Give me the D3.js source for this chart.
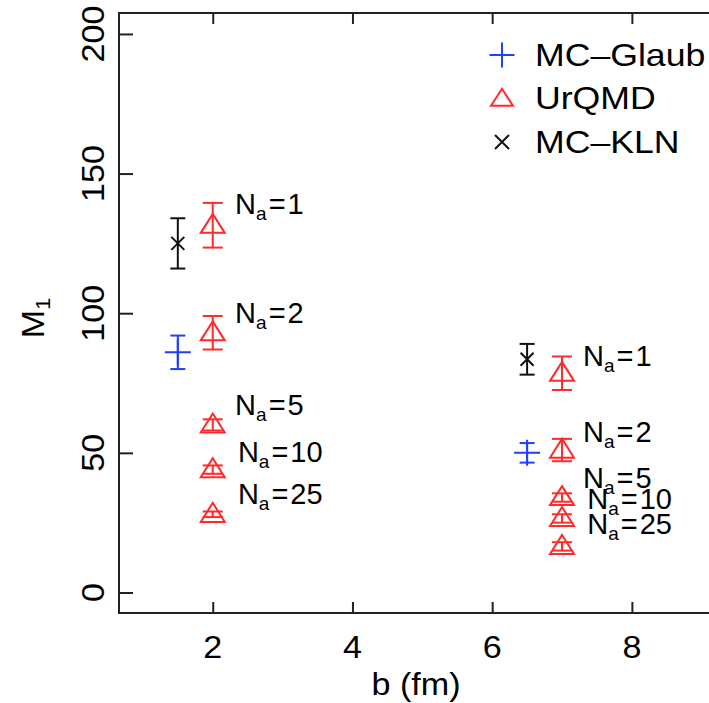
<!DOCTYPE html>
<html>
<head>
<meta charset="utf-8">
<script src="https://cdn.jsdelivr.net/npm/d3@7"></script>
<style>
  html, body { margin: 0; padding: 0; background: #fff; }
  svg { display: block; }
  text { font-family: "Liberation Sans", Arial, Helvetica, sans-serif; fill: #000; }
</style>
</head>
<body>
<script>
// ---------------- data ----------------
const naValues = [1, 2, 5, 10, 25];

const glaubB = [1.5, 6.5];
const glaubM = [86, 50];
const glaubErr = [6, 3.5];

const klnB = [1.5, 6.5];
const klnM = [125, 83.5];
const klnErr = [9, 5.5];

const urqmdB1 = 2;
const urqmdM1 = [131.5, 93, 60, 44, 28];
const urqmdErr1 = [8, 6, 2, 1.5, 1];
const urqmdB2 = 7;
const urqmdM2 = [78.5, 51, 34, 26.5, 16.5];
const urqmdErr2 = [6, 4, 1.5, 1.5, 1.5];

// annotation anchors (data coordinates) for the N_a labels
const labelB1 = [2.32, 2.32, 2.32, 2.36, 2.36];
const labelM1 = [139.5, 100.5, 67.5, 50.5, 35.5];
const labelB2 = [7.3, 7.3, 7.3, 7.36, 7.36];
const labelM2 = [85, 58, 41.5, 34, 25];

const xTicks = [2, 4, 6, 8];
const yTicks = [0, 50, 100, 150, 200];
const legendNames = ["MC\u2013Glaub", "UrQMD", "MC\u2013KLN"];

// ---------------- layout ----------------
const W = 709, H = 703;
const mLeft = 119, mTop = 13, mRight = 722, mBottom = 613;
const xDomain = [0.658, 9.29];
const yDomain = [-7.35, 207.5];

const blue = "#1f3fff", red = "#ff2a2a", black = "#111";
const FS = 31, SX = 1.1;

const svg = d3.select("body").append("svg").attr("width", W).attr("height", H);

const x = d3.scaleLinear().domain(xDomain).range([mLeft, mRight]);
const y = d3.scaleLinear().domain(yDomain).range([mBottom, mTop]);

const axisStyle = g => {
  g.select(".domain").remove();
  g.selectAll(".tick line").attr("stroke", "#222").attr("stroke-width", 2);
  g.selectAll(".tick text").remove();
};
svg.append("g").attr("transform", `translate(0,${mBottom})`)
  .call(d3.axisBottom(x).tickValues(xTicks).tickSizeInner(-11).tickSizeOuter(0)).call(axisStyle);
svg.append("g").attr("transform", `translate(0,${mTop})`)
  .call(d3.axisTop(x).tickValues(xTicks).tickSizeInner(-11).tickSizeOuter(0)).call(axisStyle);
svg.append("g").attr("transform", `translate(${mLeft},0)`)
  .call(d3.axisLeft(y).tickValues(yTicks).tickSizeInner(-14).tickSizeOuter(0)).call(axisStyle);

svg.append("rect").attr("x", mLeft).attr("y", mTop)
  .attr("width", mRight - mLeft).attr("height", mBottom - mTop)
  .attr("fill", "none").attr("stroke", "#222").attr("stroke-width", 2);

xTicks.forEach(t => {
  svg.append("text").attr("transform", `translate(${x(t)},658) scale(${SX},1)`)
    .attr("text-anchor", "middle").attr("font-size", FS).text(t);
});
yTicks.forEach(t => {
  svg.append("text").attr("transform", `translate(104,${y(t)}) rotate(-90) scale(${SX},1)`)
    .attr("text-anchor", "middle").attr("font-size", FS).text(t);
});

svg.append("text").attr("transform", `translate(${(mLeft + 709) / 2 + 2},695) scale(${SX},1)`)
  .attr("text-anchor", "middle").attr("font-size", FS).text("b (fm)");
const yl = svg.append("text").attr("transform", `translate(44,318) rotate(-90) scale(${SX},1)`)
  .attr("text-anchor", "middle").attr("font-size", FS);
yl.append("tspan").text("M");
yl.append("tspan").attr("font-size", FS * 0.65).attr("dy", 6).text("1");

// ---------------- markers ----------------
const plot = svg.append("g").attr("stroke-width", 2).attr("fill", "none");

function errorBar(g, bx, m, e, color, cap) {
  const cx = x(bx);
  g.append("line").attr("x1", cx).attr("x2", cx).attr("y1", y(m - e)).attr("y2", y(m + e)).attr("stroke", color);
  [m - e, m + e].forEach(v => {
    g.append("line").attr("x1", cx - cap / 2).attr("x2", cx + cap / 2)
      .attr("y1", y(v)).attr("y2", y(v)).attr("stroke", color);
  });
}
function plusMark(g, px, py, color, s) {
  g.append("path").attr("d", `M${px - s / 2},${py}H${px + s / 2}M${px},${py - s / 2}V${py + s / 2}`).attr("stroke", color);
}
function crossMark(g, px, py, color, s) {
  const h = s / 2;
  g.append("path").attr("d", `M${px - h},${py - h}L${px + h},${py + h}M${px - h},${py + h}L${px + h},${py - h}`).attr("stroke", color);
}
function triMark(g, px, py, color, w, h) {
  g.append("path").attr("d", `M${px},${py - h * 0.6}L${px + w / 2},${py + h * 0.4}L${px - w / 2},${py + h * 0.4}Z`)
    .attr("stroke", color).attr("stroke-linejoin", "miter");
}

glaubB.forEach((b, i) => {
  errorBar(plot, b, glaubM[i], glaubErr[i], blue, 15);
  plusMark(plot, x(b), y(glaubM[i]), blue, 26);
});
klnB.forEach((b, i) => {
  errorBar(plot, b, klnM[i], klnErr[i], black, 15);
  crossMark(plot, x(b), y(klnM[i]), black, 13);
});
urqmdM1.forEach((m, i) => {
  errorBar(plot, urqmdB1, m, urqmdErr1[i], red, 20);
  triMark(plot, x(urqmdB1), y(m), red, 24, 19);
});
urqmdM2.forEach((m, i) => {
  errorBar(plot, urqmdB2, m, urqmdErr2[i], red, 20);
  triMark(plot, x(urqmdB2), y(m), red, 24, 19);
});

function naLabel(bx, m, n) {
  const t = svg.append("text").attr("transform", `translate(${x(bx)},${y(m) + 11})`)
    .attr("font-size", 29);
  t.append("tspan").text("N");
  t.append("tspan").attr("font-size", 19).attr("dy", 6).text("a");
  t.append("tspan").attr("dy", -6).attr("dx", 2).text("=");
  t.append("tspan").attr("dx", 2).text(n);
}
naValues.forEach((n, i) => naLabel(labelB1[i], labelM1[i], n));
naValues.forEach((n, i) => naLabel(labelB2[i], labelM2[i], n));

// ---------------- legend ----------------
const rowY = [55, 98, 142];
legendNames.forEach((name, i) => {
  const cy = rowY[i], cx = 502;
  if (i === 0) plusMark(plot, cx, cy, blue, 25);
  if (i === 1) triMark(plot, cx, cy + 1, red, 22, 17);
  if (i === 2) crossMark(plot, cx, cy, black, 14);
  svg.append("text").attr("transform", `translate(535,${cy + 11}) scale(1.15,1)`)
    .attr("font-size", FS).text(name);
});
</script>
</body>
</html>
